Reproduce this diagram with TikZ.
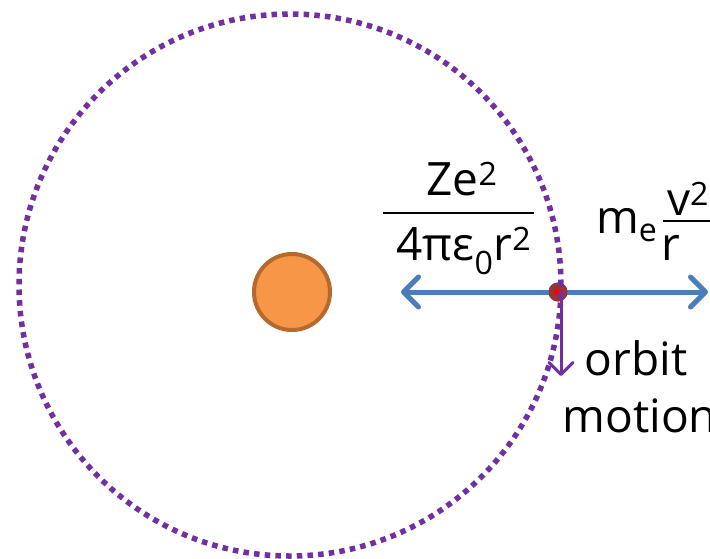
\documentclass[tikz,border=0pt]{standalone}
\usepackage{fontspec}
\setmainfont{Open Sans}
\usetikzlibrary{arrows.meta}
\definecolor{orbitpurple}{HTML}{7030A0}
\definecolor{forceblue}{HTML}{4A7EBB}
\definecolor{nucfill}{HTML}{F79646}
\definecolor{nucborder}{HTML}{B5692E}
\definecolor{elfill}{HTML}{943634}
\begin{document}
\begin{tikzpicture}[x=1pt,y=-1pt,
  lbl/.style={font=\fontsize{46}{55}\selectfont, inner sep=0pt, anchor=base},
  force/.style={draw=forceblue, line width=5pt, -{Straight Barb[length=15pt,width=30pt,round]}},
  motion/.style={draw=orbitpurple, line width=3pt, -{Straight Barb[length=12pt,width=24pt,round]}},
  orbitline/.style={draw=orbitpurple, line width=5.5pt, dash pattern=on 5.5pt off 5.2pt},
  fracbar/.style={draw=black, line width=2pt}]
\useasboundingbox (0,0) rectangle (710,558);
\fill[white] (0,0) rectangle (710,558);
% nucleus
\node[circle, minimum size=76pt, inner sep=0pt, fill=nucfill, draw=nucborder, line width=4pt] (nuc) at (292,292) {};
% electron and arrows
\coordinate (lt) at (401,292);
\coordinate (rt) at (708,292);
\coordinate (dn) at (561,376);
\node[circle, minimum size=19pt, inner sep=0pt, fill=elfill] (el) at (558,292) {};
\draw[force] (el.center) -- (lt);
\draw[force] (el.center) -- (rt);
\node[circle, minimum size=19pt, inner sep=0pt, fill=elfill] (el2) at (558,292) {};
\fill[red] (553,292) -- (557.5,288) -- (557.5,290.3) -- (562,290.3) -- (562,293.7) -- (557.5,293.7) -- (557.5,296) -- cycle;
\coordinate (ds) at (561,292);
\draw[motion] (ds) -- (dn);
% orbit
\draw[orbitline] (290,285) circle[radius=271pt];
% labels
\node[lbl] (num) at (462,195) {Ze\textsuperscript{2}};
\coordinate (b1) at (383,213);
\coordinate (b2) at (534,213);
\draw[fracbar] (b1) -- (b2);
\node[lbl] (den) at (464,260) {4πε\textsubscript{0}r\textsuperscript{2}};
\node[lbl, anchor=base west] (me) at (596,233) {m\textsubscript{e}};
\node[lbl] (vsq) at (688,215) {v\textsuperscript{2}};
\coordinate (b3) at (663,221);
\coordinate (b4) at (712,221);
\draw[fracbar] (b3) -- (b4);
\node[lbl] (rr) at (671,260) {r};
\node[lbl] (orb) at (636,375) {orbit};
\node[lbl] (mot) at (640,432) {motion};
\end{tikzpicture}
\end{document}
